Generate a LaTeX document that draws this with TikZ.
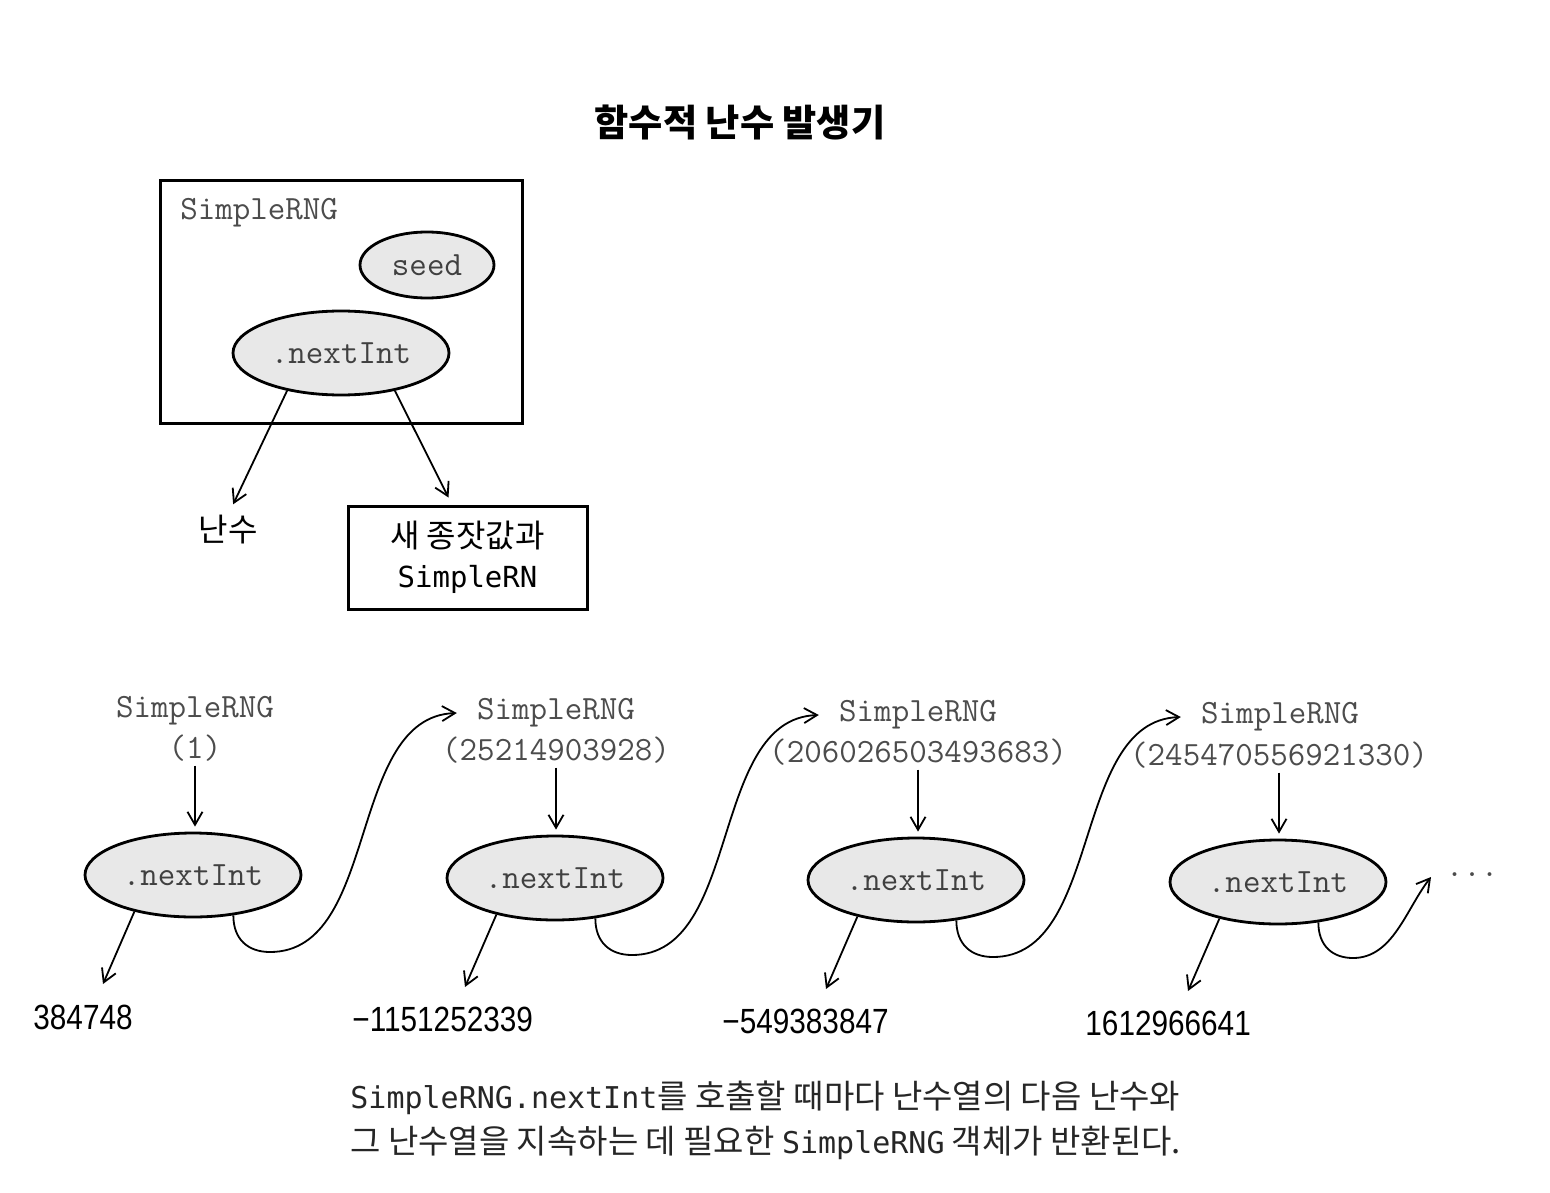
\documentclass[tikz,border=0pt]{standalone}
\usepackage{fontspec}
\setmainfont{Liberation Sans}
\newfontfamily\krfont{Noto Sans CJK KR}
\newfontfamily\capmono{DejaVu Sans Mono}
\newfontfamily\numfont[FakeStretch=0.85]{Liberation Sans}
\usetikzlibrary{shapes.geometric,arrows.meta,calc}
\tikzset{
  ell/.style={ellipse, draw, line width=1.4pt, fill=black!9, minimum width=108pt, minimum height=42pt, inner sep=0pt, font=\ttfamily\fontsize{17}{20}\selectfont, text=black!75},
  arr/.style={-{Straight Barb[length=6.5pt,width=7.5pt]}, line width=0.9pt},
  lbl/.style={inner sep=0pt, font=\ttfamily\fontsize{17}{20}\selectfont, text=black!70},
  num/.style={inner sep=0pt, anchor=west, font=\numfont\fontsize{17.5}{20}\selectfont},
  kr/.style={inner sep=0pt, font=\krfont\fontsize{16}{20}\selectfont},
  framebox/.style={draw, line width=1.5pt, inner sep=0pt},
}
\begin{document}
\begin{tikzpicture}[x=0.5pt,y=-0.5pt]
\useasboundingbox (0,0) rectangle (1550,1192);
% title
\node[inner sep=0pt, font=\krfont\bfseries\fontsize{18.6}{22}\selectfont] (title) at (740,122) {함수적 난수 발생기};
% top diagram
\node[framebox, minimum width=181pt, minimum height=121pt] (rng) at (341,302) {};
\node[lbl, anchor=west] (rngname) at (180,213) {SimpleRNG};
\node[ell, minimum width=67pt, minimum height=33pt] (seed) at (427,265) {seed};
\node[ell] (top) at (341,353) {.nextInt};
\node[kr] (rand) at (228,530) {난수};
\node[framebox, minimum width=119.5pt, minimum height=51.5pt, align=center, font=\fontsize{15}{20}\selectfont] (newrng) at (467.5,557.5) {{\krfont\fontsize{16}{20}\selectfont 새 종잣값과}\\{\capmono\fontsize{14.5}{20}\selectfont SimpleRN}};
\coordinate (boxin) at ($(newrng.north west)+(102,-7)$);
\draw[arr, shorten >=6pt] (top.215) -- (rand.north);
\draw[arr] (top.-35) -- (boxin);
% chain
\node[ell] (e1) at (193,875) {.nextInt};
\node[ell] (e2) at (555,878) {.nextInt};
\node[ell] (e3) at (916,880) {.nextInt};
\node[ell] (e4) at (1278,882) {.nextInt};
\node[lbl] (n1) at (195,711) {SimpleRNG};
\node[lbl] (s1) at (195,748) {(1)};
\node[lbl] (n2) at (556,713) {SimpleRNG};
\node[lbl] (s2) at (556,750) {(25214903928)};
\node[lbl] (n3) at (918,715) {SimpleRNG};
\node[lbl] (s3) at (918,752) {(206026503493683)};
\node[lbl] (n4) at (1280,717) {SimpleRNG};
\node[lbl] (s4) at (1279,755) {(245470556921330)};
\node[lbl, anchor=base] (dots) at (1472,876) {...};
\foreach \i in {1,2,3,4}{
  \draw[arr, shorten <=2pt, shorten >=2.5pt] (s\i.south) -- (s\i.south |- e\i.north);
  \coordinate (t\i) at ($(e\i.center)+(-90,109)$);
  \draw[arr] (e\i.212) -- (t\i);
}
\node[num] (r1) at (33,1017) {384748};
\node[num] (r2) at (352,1019) {−1151252339};
\node[num] (r3) at (722,1021) {−549383847};
\node[num] (r4) at (1085,1023) {1612966641};
\draw[arr] (e1.-45) .. controls +(0,24) and +(-22,0) .. ($(e1.center)+(77,77)$) .. controls +(110,0) and +(-110,4) .. ([xshift=-10pt]n2.west);
\draw[arr] (e2.-45) .. controls +(0,24) and +(-22,0) .. ($(e2.center)+(77,77)$) .. controls +(110,0) and +(-110,4) .. ([xshift=-10pt]n3.west);
\draw[arr] (e3.-45) .. controls +(0,24) and +(-22,0) .. ($(e3.center)+(77,77)$) .. controls +(110,0) and +(-110,4) .. ([xshift=-10pt]n4.west);
\coordinate (a4) at ($(e4.center)+(153,-5)$);
\draw[arr] (e4.-45) .. controls +(0,24) and +(-20,0) .. ($(e4.center)+(75,76)$) .. controls +(40,0) and +(-25,32) .. (a4);
% caption
\node[inner sep=0pt, anchor=west, align=left, text=black!85, font=\fontsize{15}{22.5}\selectfont] (caption) at (350,1120)
  {{\capmono SimpleRNG.nextInt}{\krfont\fontsize{16.5}{22.5}\selectfont 를 호출할 때마다 난수열의 다음 난수와}\\
   {\krfont\fontsize{16.5}{22.5}\selectfont 그 난수열을 지속하는 데 필요한 }{\capmono SimpleRNG}{\krfont\fontsize{16.5}{22.5}\selectfont{} 객체가 반환된다.}};
\end{tikzpicture}
\end{document}
